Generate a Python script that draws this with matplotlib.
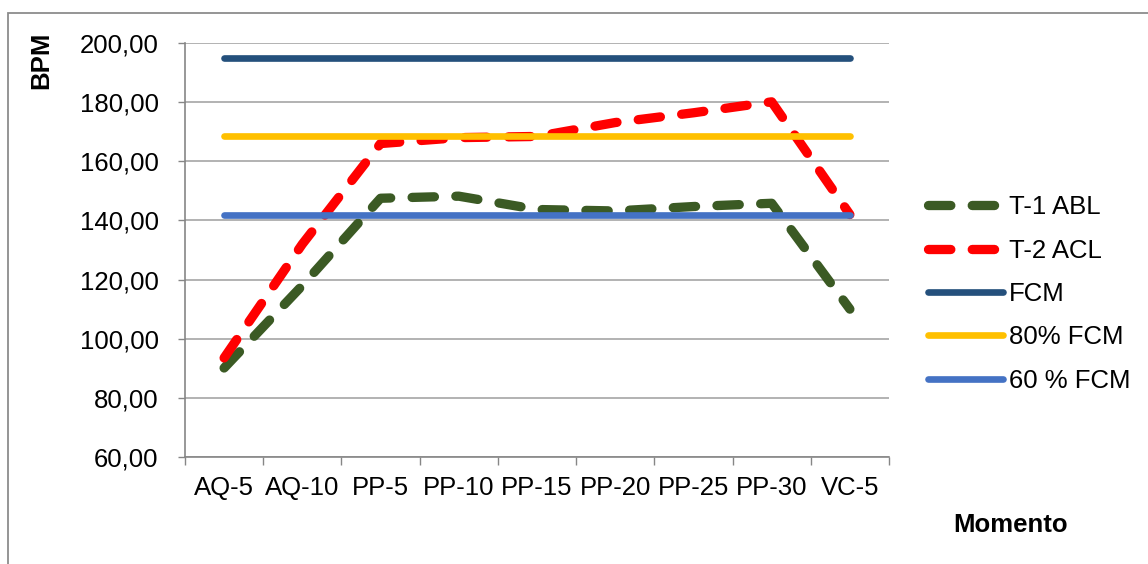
import matplotlib
matplotlib.use('Agg')
import matplotlib.pyplot as plt
from matplotlib.patches import Rectangle

# data
momentos = ['AQ-5', 'AQ-10', 'PP-5', 'PP-10', 'PP-15', 'PP-20', 'PP-25', 'PP-30', 'VC-5']
t1_abl = [90.1, 118.0, 147.5, 148.2, 143.7, 143.2, 144.7, 145.8, 110.0]
t2_acl = [93.5, 132.0, 166.0, 168.0, 168.4, 173.1, 176.4, 180.1, 142.0]
fcm = [195.0] * 9
fcm_80 = [168.5] * 9
fcm_60 = [141.8] * 9
y_ticks = [60, 80, 100, 120, 140, 160, 180, 200]

plt.rcParams['font.family'] = ['Liberation Sans', 'DejaVu Sans']

W, H = 1148, 564
fig = plt.figure(figsize=(W / 100, H / 100), dpi=100)
# axes box measured in pixels
ax = fig.add_axes([185 / W, 1 - 457 / H, (889 - 185) / W, (457 - 43) / H])

x = list(range(len(momentos)))
dash_kw = dict(dashes=(2.4, 2.3), dash_capstyle='round', solid_capstyle='round')
ax.plot(x, t1_abl, color='#3b5a24', lw=6.7, label='T-1 ABL', **dash_kw)
ax.plot(x, t2_acl, color='#ff0000', lw=6.7, label='T-2 ACL', **dash_kw)
ax.plot(x, fcm, color='#24507c', lw=4.8, solid_capstyle='round', label='FCM')
ax.plot(x, fcm_80, color='#ffc000', lw=4.8, solid_capstyle='round', label='80% FCM')
ax.plot(x, fcm_60, color='#4472c4', lw=4.8, solid_capstyle='round', label='60 % FCM')

# axes limits and ticks
ax.set_xlim(-0.5, len(momentos) - 0.5)
ax.set_ylim(60, 200)
ax.set_yticks(y_ticks)
ax.set_yticklabels([('%.2f' % v).replace('.', ',') for v in y_ticks])
ax.set_xticks(x)
ax.set_xticklabels(momentos)
ax.set_xticks([i - 0.5 for i in range(len(momentos) + 1)], minor=True)
ax.tick_params(axis='x', which='major', length=0, pad=14, labelsize=18.5)
ax.tick_params(axis='x', which='minor', length=6, width=1, color='#868686')
ax.tick_params(axis='y', length=5, width=1, color='#868686', pad=14, labelsize=18.5)

# grid and spines
ax.yaxis.grid(True, color='#a6a6a6', lw=1.2)
ax.set_axisbelow(True)
for side in ['top', 'right']:
    ax.spines[side].set_visible(False)
for side in ['left', 'bottom']:
    ax.spines[side].set_color('#868686')
    ax.spines[side].set_linewidth(1.2)

# axis titles
fig.text(41 / W, 1 - 60 / H, 'BPM', rotation=90, ha='center', va='center',
         fontsize=18.5, fontweight='bold')
fig.text(1011 / W, 1 - 525 / H, 'Momento', ha='center', va='center',
         fontsize=18.5, fontweight='bold')

# legend on the right
ax.legend(loc='center left', bbox_to_anchor=(928 / W, 1 - 294 / H),
          bbox_transform=fig.transFigure, frameon=False, fontsize=18.5,
          handlelength=2.9, handletextpad=0.25, labelspacing=0.75,
          borderpad=0, borderaxespad=0)

# chart-area frame (top and left edges visible)
fig.patches.append(Rectangle((8 / W, -0.2), 1.2, 1.2 - 13 / H, transform=fig.transFigure,
                             fill=False, edgecolor='#8c8c8c', lw=1.3))

fig.savefig('out.png', dpi=100)
